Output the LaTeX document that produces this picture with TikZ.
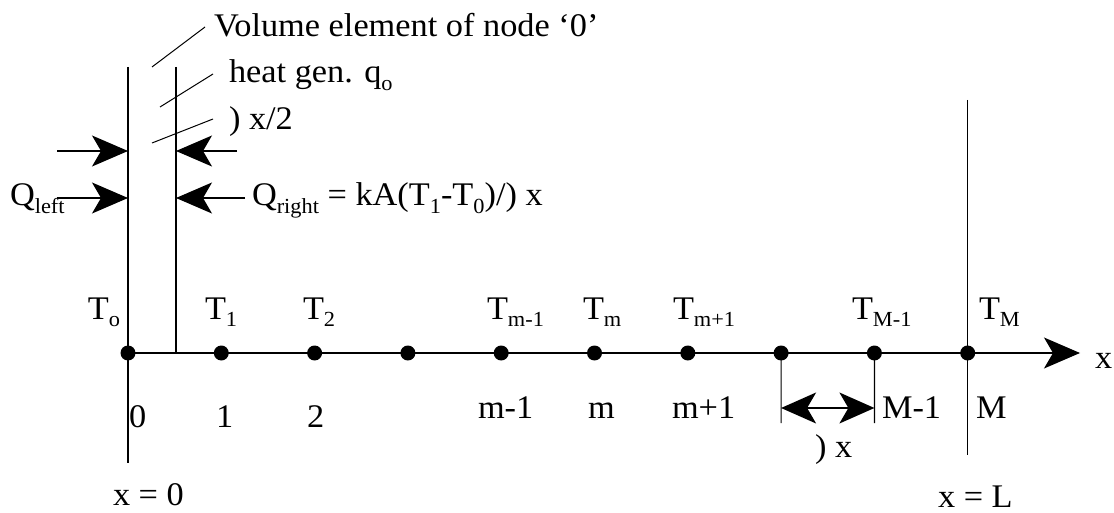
\documentclass[tikz,border=0pt]{standalone}
\usepackage{fontspec}
\setmainfont[FakeStretch=1.04]{Liberation Serif}
\usetikzlibrary{arrows.meta}
\newcommand\sbs[1]{\raisebox{-0.22em}{\fontsize{21.5}{21.5}\selectfont #1}}
\begin{document}
\begin{tikzpicture}[x=1pt,y=-1pt,
  every node/.style={inner sep=0pt,outer sep=0pt,font=\fontsize{33}{39}\selectfont},
  lbl/.style={anchor=base west},
  dot/.style={circle,fill=black,minimum size=15pt},
  ln/.style={line width=1.2pt},
  bigarrow/.style={ln,-{Stealth[length=36pt,width=31pt,inset=9pt]}},
  dblarrow/.style={ln,{Stealth[length=35pt,width=31pt,inset=9pt]}-{Stealth[length=35pt,width=31pt,inset=9pt]}},
  leader/.style={line width=1pt}]
\useasboundingbox (0,0) rectangle (1114,513);
% nodal points
\foreach \i in {0,...,9}{
  \node[dot] (d\i) at ({128+93.3*\i},353) {};
}
% coordinates
\coordinate (L0top) at (128,67);
\coordinate (L0bot) at (128,463);
\coordinate (Rtop) at (176,67);
\coordinate (Rbot) at (176,353);
\coordinate (Mtop) at (967.7,100);
\coordinate (Mbot) at (967.7,455);
\coordinate (xend) at (1080,353);
% element boundaries
\draw[ln] (L0top) -- (L0bot);
\draw[ln] (Rtop) -- (Rbot);
\draw[ln] (Mtop) -- (Mbot);
% axis
\draw[bigarrow] (d0.center) -- (xend);
\node[lbl] (xlab) at (1095,368) {x};
% heat flow arrows
\coordinate (a1s) at (57,151);  \coordinate (a1e) at (128,151);
\coordinate (a2s) at (57,198);  \coordinate (a2e) at (128,198);
\coordinate (a3s) at (237,151); \coordinate (a3e) at (176,151);
\coordinate (a4s) at (245,198); \coordinate (a4e) at (176,198);
\draw[bigarrow] (a1s) -- (a1e);
\draw[bigarrow] (a2s) -- (a2e);
\draw[bigarrow] (a3s) -- (a3e);
\draw[bigarrow] (a4s) -- (a4e);
\node[lbl] (qleft) at (10,206) {Q\sbs{left}};
\node[lbl] (qright) at (252,206) {Q\sbs{right} = kA(T\sbs{1}-T\sbs{0})/) x};
% leader lines and annotations
\node[lbl] (vol) at (214,37) {Volume element of node ‘0'};
\node[lbl] (heat) at (229,83) {heat gen. q\sbs{o}};
\node[lbl] (half) at (229,130) {) x/2};
\coordinate (v1) at (152,67);  \coordinate (v2) at (205,27);
\coordinate (h1) at (160,107); \coordinate (h2) at (213,74);
\coordinate (x1) at (152,143); \coordinate (x2) at (213,119);
\draw[leader] (v1) -- (v2);
\draw[leader] (h1) -- (h2);
\draw[leader] (x1) -- (x2);
% temperature labels
\node[anchor=base east] (T0) at (120,319) {T\sbs{o}};
\node[lbl] (T1) at (205,319) {T\sbs{1}};
\node[lbl] (T2) at (303,319) {T\sbs{2}};
\node[lbl] (Tm1) at (487,319) {T\sbs{m-1}};
\node[lbl] (Tm) at (583,319) {T\sbs{m}};
\node[lbl] (Tmp) at (673,319) {T\sbs{m+1}};
\node[lbl] (TM1) at (852,319) {T\sbs{M-1}};
\node[lbl] (TM) at (979,319) {T\sbs{M}};
% index labels
\node[lbl] (n0) at (129,427) {0};
\node[lbl] (n1) at (216,427) {1};
\node[lbl] (n2) at (307,427) {2};
\node[lbl] (nm1) at (478,418) {m-1};
\node[lbl] (nm) at (588,418) {m};
\node[lbl] (nmp) at (672,418) {m+1};
\node[lbl] (nM1) at (882,418) {M-1};
\node[lbl] (nM) at (976,418) {M};
% dimension delta x
\coordinate (t7) at (781.1,423);
\coordinate (t8) at (874.4,423);
\coordinate (da) at (781.1,408);
\coordinate (db) at (874.4,408);
\draw[ln] (d7.center) -- (t7);
\draw[ln] (d8.center) -- (t8);
\draw[dblarrow] (da) -- (db);
\node[lbl] (dx) at (815,457) {) x};
% boundary positions
\node[lbl] (x0) at (113,505) {x = 0};
\node[lbl] (xL) at (938,507) {x = L};
\end{tikzpicture}
\end{document}
